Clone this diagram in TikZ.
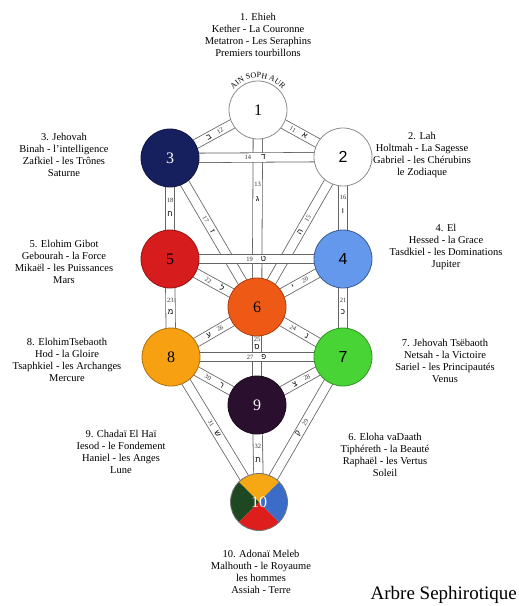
\documentclass[tikz,border=0pt]{standalone}
\usepackage{fontspec}
\setmainfont{Liberation Serif}
\newfontfamily\sansf{Liberation Sans}
\newfontfamily\hebf[Script=Hebrew]{Liberation Sans}
\usetikzlibrary{decorations.text}
\pgfdeclarelayer{bg}
\pgfdeclarelayer{mid}
\pgfsetlayers{bg,mid,main}
\definecolor{cthree}{RGB}{22,32,95}
\definecolor{cfive}{RGB}{214,28,28}
\definecolor{cfour}{RGB}{100,152,236}
\definecolor{csix}{RGB}{238,90,22}
\definecolor{ceight}{RGB}{246,160,18}
\definecolor{cseven}{RGB}{72,212,52}
\definecolor{cnine}{RGB}{42,16,46}
\definecolor{ctop}{RGB}{246,168,20}
\definecolor{cright}{RGB}{58,108,200}
\definecolor{cbottom}{RGB}{222,30,28}
\definecolor{cleft}{RGB}{30,72,34}
\definecolor{bandline}{RGB}{100,100,100}
\tikzset{
 seph/.style={circle, minimum size=58pt, inner sep=0pt, line width=0.8pt, font=\fontsize{16}{16}\selectfont},
 sephsans/.style={seph, font=\sansf\fontsize{16}{16}\selectfont},
 band/.style={draw=bandline, line width=0.8pt, double=white, double distance=8.6pt},
 pnum/.style={font=\fontsize{6.5}{7}\selectfont, inner sep=0pt, text=black!80},
 plet/.style={font=\hebf\fontsize{8}{8}\selectfont, inner sep=0pt},
 info/.style={align=center, font=\fontsize{10.5}{12.2}\selectfont, inner sep=0pt},
}
\begin{document}
\begin{tikzpicture}[x=1pt,y=-1pt]
\begin{pgfonlayer}{bg}
\fill[white] (0,0) rectangle (519,606);
\end{pgfonlayer}
\useasboundingbox (0,0) rectangle (519,606);

% sephiroth
\node[seph, fill=white, draw=black!45] (n1) at (258,110) {1};
\node[sephsans, fill=white, draw=black!45] (n2) at (343,157) {2};
\node[seph, fill=cthree, draw=cthree!70!black, text=white] (n3) at (170,158) {3};
\node[sephsans, fill=cfour, draw=cfour!60!black] (n4) at (343,259) {4};
\node[seph, fill=cfive, draw=cfive!70!black] (n5) at (170,259) {5};
\node[seph, fill=csix, draw=csix!70!black] (n6) at (257,307) {6};
\node[sephsans, fill=cseven, draw=cseven!70!black] (n7) at (343,357) {7};
\node[seph, fill=ceight, draw=ceight!70!black] (n8) at (171,357) {8};
\node[seph, fill=cnine, draw=cnine!70!black, text=white] (n9) at (257,405) {9};
\node[seph, minimum size=57pt, draw=black!55, text=white] (n10) at (259,502) {10};

\begin{pgfonlayer}{mid}
\begin{scope}[shift={(n10.center)}, x=1pt, y=1pt]
\fill[ctop] (0,0) -- (45:28.5) arc[start angle=45,end angle=135,radius=28.5] -- cycle;
\fill[cleft] (0,0) -- (135:28.5) arc[start angle=135,end angle=225,radius=28.5] -- cycle;
\fill[cbottom] (0,0) -- (225:28.5) arc[start angle=225,end angle=315,radius=28.5] -- cycle;
\fill[cright] (0,0) -- (315:28.5) arc[start angle=315,end angle=405,radius=28.5] -- cycle;
\end{scope}
\end{pgfonlayer}

% paths
\begin{pgfonlayer}{bg}
\draw[band] (n1.center) -- (n2.center) node[pnum,pos=.41,sloped]{11} node[plet,pos=.55,sloped]{א};
\draw[band] (n1.center) -- (n3.center) node[pnum,pos=.43,sloped]{12} node[plet,pos=.56,sloped]{ב};
\draw[band] (n1.center) -- (n6.center) node[pnum,pos=.38]{13} node[plet,pos=.45]{ג};
\draw[band] (n2.center) -- (n6.center) node[pnum,pos=.41,sloped]{15} node[plet,pos=.5,sloped]{ה};
\draw[band] (n2.center) -- (n4.center) node[pnum,pos=.40]{16} node[plet,pos=.53]{ו};
\draw[band] (n3.center) -- (n6.center) node[pnum,pos=.41,sloped]{17} node[plet,pos=.49,sloped]{ז};
\draw[band] (n3.center) -- (n5.center) node[pnum,pos=.42]{18} node[plet,pos=.56]{ח};
\draw[band] (n4.center) -- (n6.center) node[pnum,pos=.44,sloped]{20} node[plet,pos=.58,sloped]{י};
\draw[band] (n4.center) -- (n7.center) node[pnum,pos=.42]{21} node[plet,pos=.54]{כ};
\draw[band] (n5.center) -- (n6.center) node[pnum,pos=.44,sloped]{22} node[plet,pos=.6,sloped]{ל};
\draw[band] (n5.center) -- (n8.center) node[pnum,pos=.42]{23} node[plet,pos=.54]{מ};
\draw[band] (n6.center) -- (n7.center) node[pnum,pos=.42,sloped]{24} node[plet,pos=.58,sloped]{נ};
\draw[band] (n6.center) -- (n9.center) node[pnum,pos=.33]{25} node[plet,pos=.41]{ס};
\draw[band] (n6.center) -- (n8.center) node[pnum,pos=.43,sloped]{26} node[plet,pos=.56,sloped]{ע};
\draw[band] (n7.center) -- (n9.center) node[pnum,pos=.42,sloped]{28} node[plet,pos=.56,sloped]{צ};
\draw[band] (n7.center) -- (n10.center) node[pnum,pos=.45,sloped]{29} node[plet,pos=.53,sloped]{ק};
\draw[band] (n8.center) -- (n9.center) node[pnum,pos=.43,sloped]{30} node[plet,pos=.59,sloped]{ר};
\draw[band] (n8.center) -- (n10.center) node[pnum,pos=.455,sloped]{31} node[plet,pos=.53,sloped]{ש};
\draw[band] (n9.center) -- (n10.center) node[pnum,pos=.43]{32} node[plet,pos=.57]{ת};
\draw[band] (n3.center) -- (n2.center) node[pnum,pos=.45]{14} node[plet,pos=.54]{ד};
\draw[band] (n5.center) -- (n4.center) node[pnum,pos=.46]{19} node[plet,pos=.54]{ט};
\draw[band] (n8.center) -- (n7.center) node[pnum,pos=.46]{27} node[plet,pos=.54]{פ};
\end{pgfonlayer}

% AIN SOPH AUR
\begin{scope}[shift={(n1.center)}, x=1pt, y=1pt]
\path[decorate, decoration={text along path, text={|\fontsize{8}{8}\selectfont|AIN SOPH AUR}, text align=center}]
  (152:32) arc[start angle=152, end angle=28, radius=32];
\end{scope}

% texts
\node[info] (t1) at (258,35) {1. Ehieh\\Kether - La Couronne\\Metatron - Les Seraphins\\Premiers tourbillons};
\node[info] (t3) at (64,155) {3. Jehovah\\Binah - l'intelligence\\Zafkiel - les Trônes\\Saturne};
\node[info] (t2) at (422,155) {2. Lah\\Holtmah - La Sagesse\\Gabriel - les Chérubins\\le Zodiaque};
\node[info] (t5) at (64,262) {5. Elohim Gibot\\Gebourah - la Force\\Mikaël - les Puissances\\Mars};
\node[info] (t4) at (446,247) {4. El\\Hessed - la Grace\\Tasdkiel - les Dominations\\Jupiter};
\node[info] (t8) at (67,360) {8. ElohimTsebaoth\\Hod - la Gloire\\Tsaphkiel - les Archanges\\Mercure};
\node[info] (t7) at (445,361) {7. Jehovah Tsëbaoth\\Netsah - la Victoire\\Sariel - les Principautés\\Venus};
\node[info] (t9) at (121,452) {9. Chadaï El Haï\\Iesod - le Fondement\\Haniel - les Anges\\Lune};
\node[info] (t6) at (385,455) {6. Eloha vaDaath\\Tiphéreth - la Beauté\\Raphaël - les Vertus\\Soleil};
\node[info] (t10) at (261,572) {10. Adonaï Meleb\\Malhouth - le Royaume\\les hommes\\Assiah - Terre};
\node[inner sep=0pt, anchor=base east, font=\fontsize{19}{19}\selectfont] (title) at (517,599) {Arbre Sephirotique};
\end{tikzpicture}
\end{document}
